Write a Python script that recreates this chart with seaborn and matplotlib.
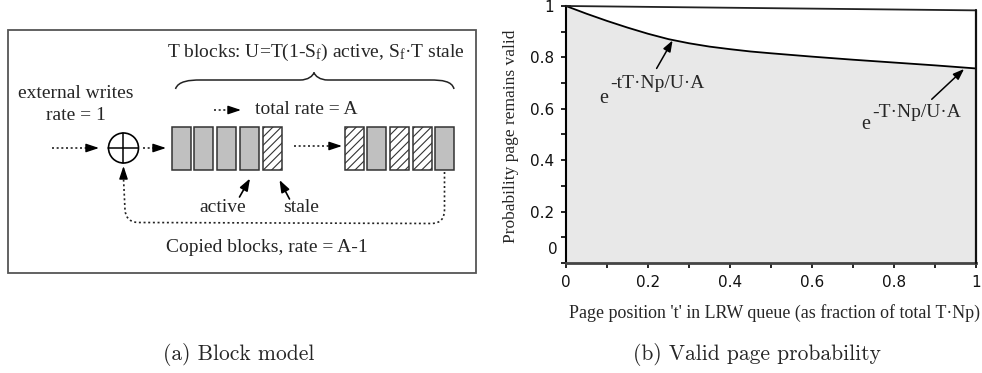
import numpy as np
import pandas as pd
import matplotlib
matplotlib.use("Agg")
import matplotlib.pyplot as plt
import seaborn as sns
from matplotlib.patches import Rectangle, Circle, PathPatch
from matplotlib.path import Path

# ---------------- data ----------------
t_pos = [0.0, 0.05, 0.1, 0.15, 0.2, 0.25, 0.3, 0.35, 0.4, 0.45, 0.5, 0.6, 0.7, 0.8, 0.9, 1.0]
p_valid = [1.0, 0.970, 0.942, 0.916, 0.892, 0.871, 0.855, 0.842, 0.832, 0.823, 0.816,
           0.803, 0.791, 0.780, 0.769, 0.757]
frame_top = [1.0, 0.983]
x_ticks = [0, 0.2, 0.4, 0.6, 0.8, 1]
x_tick_labels = ["0", "0.2", "0.4", "0.6", "0.8", "1"]
y_ticks = [0, 0.2, 0.4, 0.6, 0.8, 1]
y_tick_labels = ["0", "0.2", "0.4", "0.6", "0.8", "1"]
left_group = ["active", "active", "active", "active", "stale"]
right_group = ["stale", "active", "stale", "stale", "active"]

sns.set_theme(style="ticks")
plt.rcParams["font.family"] = ["Liberation Serif", "DejaVu Sans"]
plt.rcParams["mathtext.fontset"] = "custom"
plt.rcParams["mathtext.rm"] = "Liberation Serif"
plt.rcParams["mathtext.it"] = "Liberation Serif:italic"
plt.rcParams["hatch.linewidth"] = 0.8

fig = plt.figure(figsize=(9.82, 3.73), dpi=100)

# ---------------- panel (a): diagram ----------------
ad = fig.add_axes([0, 0, 1, 1])
ad.set_xlim(0, 982)
ad.set_ylim(373, 0)
ad.axis("off")
ad.patch.set_alpha(0)

FS = 14
ad.add_patch(Rectangle((8, 30), 468, 243, fill=False, ec="#555555", lw=1.3))

ad.text(316, 52, "T blocks: U=T(1-S$_\\mathrm{f}$) active, S$_\\mathrm{f}$\u00b7T stale",
        ha="center", va="center", fontsize=FS)

# brace
verts = [(175.5, 89), (178, 81), (190, 80), (200, 80),
         (300, 80), (308, 80), (313, 76), (314, 72.5),
         (315, 76), (320, 80), (328, 80),
         (430, 80), (442, 80), (452, 81), (454, 89)]
codes = [Path.MOVETO, Path.CURVE4, Path.CURVE4, Path.CURVE4,
         Path.LINETO, Path.CURVE4, Path.CURVE4, Path.CURVE4,
         Path.CURVE4, Path.CURVE4, Path.CURVE4,
         Path.LINETO, Path.CURVE4, Path.CURVE4, Path.CURVE4]
ad.add_patch(PathPatch(Path(verts, codes), fill=False, ec="#222222", lw=1.1))

ad.text(76, 93, "external writes", ha="center", va="center", fontsize=FS)
ad.text(76, 115, "rate = 1", ha="center", va="center", fontsize=FS)
ad.text(306, 110, "total rate = A", ha="center", va="center", fontsize=FS)

DOT = (0, (1.2, 1.6))
HEAD = "-|>,head_length=0.6,head_width=0.2"


def dotted_arrow(x0, y0, x1, y1, hl=11):
    d = np.hypot(x1 - x0, y1 - y0)
    ux, uy = (x1 - x0) / d, (y1 - y0) / d
    ad.plot([x0, x1 - ux * hl], [y0, y1 - uy * hl], color="#222222", lw=1.2, ls=DOT)
    ad.annotate("", xy=(x1, y1), xytext=(x1 - ux * hl, y1 - uy * hl),
                arrowprops=dict(arrowstyle=HEAD, color="black", lw=1,
                                mutation_scale=13, shrinkA=0, shrinkB=0))


def solid_arrow(x0, y0, x1, y1):
    ad.annotate("", xy=(x1, y1), xytext=(x0, y0),
                arrowprops=dict(arrowstyle="-|>,head_length=0.6,head_width=0.22",
                                color="black", lw=1.2,
                                mutation_scale=12, shrinkA=0, shrinkB=0))


dotted_arrow(214, 110, 241, 110)
dotted_arrow(52, 148, 99, 148)
ad.add_patch(Circle((123.5, 148), 15, fc="white", ec="black", lw=1.2))
ad.plot([108.5, 138.5], [148, 148], color="black", lw=1.1)
ad.plot([123.5, 123.5], [133, 163], color="black", lw=1.1)
dotted_arrow(143, 148, 166, 148)
dotted_arrow(294, 146, 342, 146)


def draw_blocks(kinds, x_start, pitch):
    for i, k in enumerate(kinds):
        x = x_start + i * pitch
        if k == "active":
            ad.add_patch(Rectangle((x, 127), 19, 42.5, fc="#c0c0c0", ec="#333333", lw=1.1))
        else:
            ad.add_patch(Rectangle((x, 127), 19, 42.5, fc="white", ec="#333333",
                                   lw=1.1, hatch="////"))


draw_blocks(left_group, 171.7, 22.8)
draw_blocks(right_group, 344.7, 22.65)

solid_arrow(239.5, 197, 250, 178.5)
solid_arrow(289.5, 199, 279.5, 180)
ad.text(223, 208, "active", ha="center", va="center", fontsize=FS)
ad.text(301, 208, "stale", ha="center", va="center", fontsize=FS)

# return path
rverts = [(444.5, 172), (444.5, 210), (444.5, 223), (432, 223.5),
          (138, 222.5), (126, 222), (125, 210),
          (123.5, 178)]
rcodes = [Path.MOVETO, Path.LINETO, Path.CURVE3, Path.CURVE3,
          Path.LINETO, Path.CURVE3, Path.CURVE3,
          Path.LINETO]
ad.add_patch(PathPatch(Path(rverts, rcodes), fill=False, ec="#222222", lw=1.2, ls=DOT))
ad.annotate("", xy=(123.5, 166), xytext=(123.5, 177),
            arrowprops=dict(arrowstyle=HEAD, color="black", lw=1,
                            mutation_scale=13, shrinkA=0, shrinkB=0))
ad.text(266.5, 248, "Copied blocks, rate = A-1", ha="center", va="center", fontsize=FS)

# ---------------- panel (b): plot ----------------
ax = fig.add_axes([566 / 982, 1 - 263 / 373, 410 / 982, 257 / 373])
df = pd.DataFrame({"t": t_pos, "p": p_valid})
ax.fill_between(df["t"], 0, df["p"], color="#e8e8e8", lw=0, zorder=1)
sns.lineplot(data=df, x="t", y="p", ax=ax, color="black", lw=1.3, zorder=3)
ax.plot([0, 1], frame_top, color="#222222", lw=1.3, clip_on=False, zorder=3)
ax.plot([1, 1], [0, frame_top[1]], color="#111111", lw=1.6, clip_on=False, zorder=3)

ax.set_xlim(0, 1)
ax.set_ylim(0, 1)
ax.set_xlabel("")
ax.set_ylabel("")
ax.set_facecolor("none")
for s in ["top", "right"]:
    ax.spines[s].set_visible(False)
ax.spines["left"].set_color("black")
ax.spines["left"].set_linewidth(1.5)
ax.spines["bottom"].set_color("#444444")
ax.spines["bottom"].set_linewidth(2.0)

ax.set_xticks(x_ticks)
ax.set_xticklabels(x_tick_labels)
ax.set_yticks(y_ticks)
ax.set_yticklabels(["" if l == "0" else l for l in y_tick_labels])
ax.set_xticks(np.arange(0.1, 1.0, 0.2), minor=True)
ax.set_yticks(np.arange(0.1, 1.0, 0.2), minor=True)
for which in ["major", "minor"]:
    ax.tick_params(axis="both", which=which, direction="inout", length=7, width=1.2,
                   color="black")
ax.tick_params(axis="both", which="major", labelsize=11, pad=5, labelcolor="#111111")
for lab in ax.get_xticklabels() + ax.get_yticklabels():
    lab.set_fontfamily("DejaVu Sans")
ax.annotate("0", xy=(0, 0), xycoords="data", xytext=(-8, 13), textcoords="offset pixels",
            ha="right", va="center", fontsize=11, family="DejaVu Sans", color="#111111")

# annotations
ax.annotate("", xy=(0.260, 0.866), xytext=(0.221, 0.757),
            arrowprops=dict(arrowstyle="-|>,head_length=0.6,head_width=0.22", color="black",
                            lw=1.1, mutation_scale=11, shrinkA=0, shrinkB=0))
ax.annotate("", xy=(0.971, 0.755), xytext=(0.892, 0.637),
            arrowprops=dict(arrowstyle="-|>,head_length=0.6,head_width=0.22", color="black",
                            lw=1.1, mutation_scale=11, shrinkA=0, shrinkB=0))
ax.text(0.080, 0.640, "e", ha="left", va="center", fontsize=14.5)
ax.text(0.107, 0.700, "-tT\u00b7Np/U\u00b7A", ha="left", va="center", fontsize=14)
ax.text(0.719, 0.540, "e", ha="left", va="center", fontsize=14.5)
ax.text(0.746, 0.584, "-T\u00b7Np/U\u00b7A", ha="left", va="center", fontsize=14)

fig.text(510.7 / 982, 1 - 136 / 373, "Probability page remains valid", rotation=90,
         ha="center", va="center", fontsize=12.5)
fig.text(980 / 982, 1 - 313 / 373, "Page position 't' in LRW queue (as fraction of total T\u00b7Np)",
         ha="right", va="center", fontsize=12.9)

fig.text(239 / 982, 1 - 355 / 373, "(a) Block model", ha="center", va="center",
         fontsize=15.5, family="cmr10")
fig.text(757 / 982, 1 - 355 / 373, "(b) Valid page probability", ha="center", va="center",
         fontsize=15.5, family="cmr10")

fig.savefig("out.png", dpi=100)
